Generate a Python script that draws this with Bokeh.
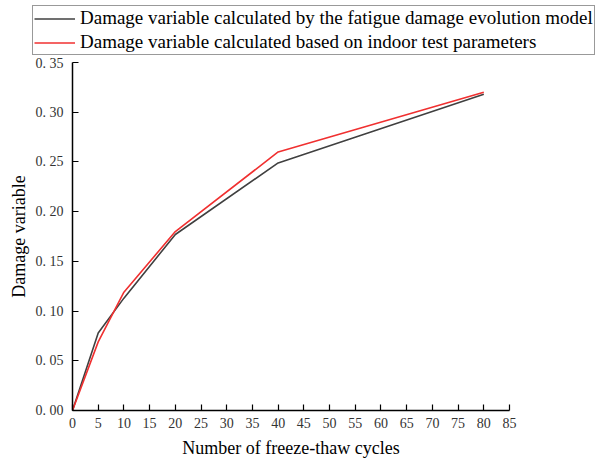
from bokeh.plotting import figure
from bokeh.models import Legend, LegendItem, FixedTicker, Range1d
from bokeh.embed import file_html
from bokeh.resources import INLINE

cycles = [0, 5, 10, 20, 40, 80]
model_damage = [0.0, 0.078, 0.113, 0.177, 0.249, 0.318]
test_damage = [0.0, 0.069, 0.119, 0.180, 0.260, 0.320]

x_ticks = list(range(0, 90, 5))
y_ticks = [0.0, 0.05, 0.10, 0.15, 0.20, 0.25, 0.30, 0.35]
y_tick_labels = ["0. 00", "0. 05", "0. 10", "0. 15", "0. 20", "0. 25", "0. 30", "0. 35"]

label_model = "Damage variable calculated by the fatigue damage evolution model"
label_test = "Damage variable calculated based on indoor test parameters"

BLACK = "#404040"
RED = "#f03030"

# ---- legend strip (top) ----
lg = figure(width=596, height=55, output_backend="svg", toolbar_location=None,
            x_range=Range1d(-10, -9), y_range=Range1d(-10, -9),
            x_axis_type=None, y_axis_type=None,
            min_border_left=0, min_border_right=0, min_border_top=0, min_border_bottom=0)
lg.outline_line_color = None
lg.grid.visible = False
d1 = lg.line(cycles, model_damage, line_color=BLACK, line_width=1.6)
d2 = lg.line(cycles, test_damage, line_color=RED, line_width=1.6)

legend = Legend(items=[LegendItem(label=label_model, renderers=[d1]),
                       LegendItem(label=label_test, renderers=[d2])],
                location=(32, 0))
legend.label_text_font = "Liberation Serif"
legend.label_text_font_size = "19px"
legend.label_text_color = "black"
legend.glyph_width = 41
legend.glyph_height = 21
legend.label_height = 21
legend.label_standoff = 5
legend.padding = 1
legend.margin = 0
legend.spacing = 2
legend.border_line_color = "#333333"
legend.border_line_width = 1.2
legend.background_fill_alpha = 1
lg.add_layout(legend, "center")

# ---- main chart ----
p = figure(width=596, height=406, output_backend="svg", toolbar_location=None,
           x_range=Range1d(0, 85), y_range=Range1d(0, 0.35),
           min_border_left=72, min_border_right=87, min_border_top=7, min_border_bottom=51)
p.outline_line_color = None
p.grid.visible = False

p.line(cycles, model_damage, line_color=BLACK, line_width=1.6)
p.line(cycles, test_damage, line_color=RED, line_width=1.6)

for ax in (p.xaxis[0], p.yaxis[0]):
    ax.major_tick_in = 6
    ax.major_tick_out = 0
    ax.minor_tick_in = 0
    ax.minor_tick_out = 0
    ax.axis_line_width = 1.5
    ax.major_tick_line_width = 1.2
    ax.axis_line_color = "black"
    ax.major_tick_line_color = "black"
    ax.major_label_text_font = "Liberation Serif"
    ax.major_label_text_font_size = "14px"
    ax.major_label_text_color = "#333333"
    ax.axis_label_text_font = "Liberation Serif"
    ax.axis_label_text_font_size = "18px"
    ax.axis_label_text_font_style = "normal"
    ax.axis_label_text_color = "black"

p.xaxis.ticker = FixedTicker(ticks=x_ticks)
p.yaxis.ticker = FixedTicker(ticks=y_ticks)
p.yaxis.major_label_overrides = {t: l for t, l in zip(y_ticks, y_tick_labels)}
p.xaxis.axis_label = "Number of freeze-thaw cycles"
p.yaxis.axis_label = "Damage variable"
p.xaxis.major_label_standoff = 7
p.yaxis.major_label_standoff = 9
p.xaxis.axis_label_standoff = 7
p.yaxis.axis_label_standoff = 4

open("out.html", "w").write(file_html([lg, p], INLINE))
